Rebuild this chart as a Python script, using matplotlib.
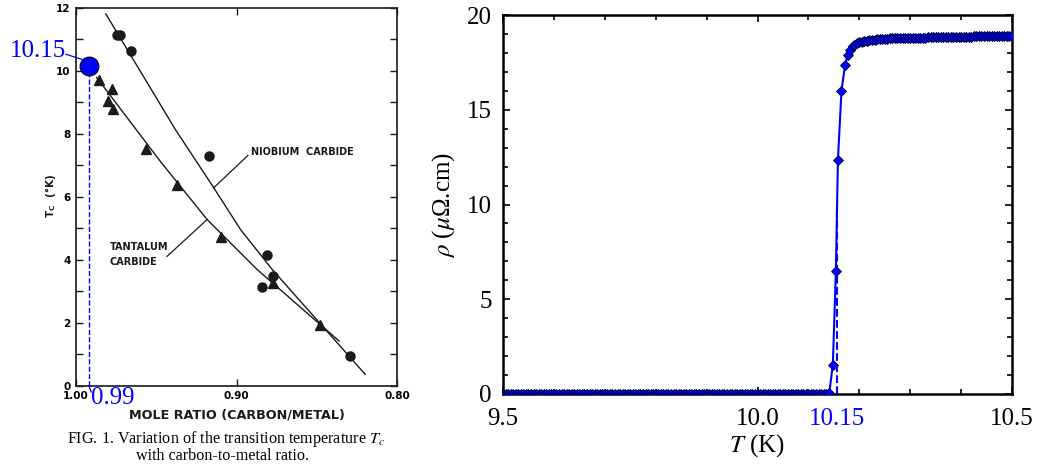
import numpy as np
import matplotlib
matplotlib.use("Agg")
import matplotlib.pyplot as plt
from matplotlib.ticker import MultipleLocator

plt.rcParams['font.family'] = ['Liberation Serif', 'DejaVu Serif']
plt.rcParams['mathtext.fontset'] = 'stix'

# left panel: Tc vs carbon/metal mole ratio (scanned figure)
nb_ratio = [0.9746, 0.9725, 0.9656, 0.9169, 0.8808, 0.8840, 0.8770, 0.8290]
nb_tc = [11.15, 11.15, 10.64, 7.29, 4.16, 3.15, 3.50, 0.95]
ta_ratio = [0.9856, 0.9773, 0.9800, 0.9767, 0.9564, 0.9370, 0.9096, 0.8770, 0.8480]
ta_tc = [9.70, 9.44, 9.04, 8.80, 7.51, 6.39, 4.73, 3.26, 1.93]
nb_curve_x = [0.9814, 0.9381, 0.9142, 0.8975, 0.8777, 0.8198]
nb_curve_y = [11.81, 8.14, 6.29, 4.96, 3.69, 0.36]
ta_curve_x = [0.9871, 0.9673, 0.9475, 0.9183, 0.8871, 0.8361]
ta_curve_y = [9.79, 8.46, 7.13, 5.28, 3.69, 1.42]
mark_ratio = 0.992
mark_tc = 10.15

# right panel: resistivity vs temperature
T_low = np.round(np.arange(9.5, 10.1375, 0.005), 3)
rho_low = np.zeros(len(T_low))
T_trans = [10.141, 10.148, 10.154, 10.158, 10.165, 10.172, 10.177, 10.182, 10.187]
rho_trans = [0.05, 1.55, 6.5, 12.35, 16.0, 17.35, 17.9, 18.15, 18.35]
T_high = np.round(np.arange(10.19, 10.5001, 0.005), 3)
rho_high = [18.42, 18.50, 18.55, 18.59, 18.62, 18.65, 18.67, 18.69, 18.70, 18.72, 18.73, 18.74,
            18.75, 18.75, 18.76, 18.76, 18.77, 18.77, 18.78, 18.78, 18.78, 18.79,
            18.79, 18.80, 18.80, 18.80, 18.81, 18.81, 18.81, 18.82, 18.82, 18.82,
            18.83, 18.83, 18.83, 18.84, 18.84, 18.84, 18.84, 18.85, 18.85, 18.85,
            18.85, 18.86, 18.86, 18.86, 18.86, 18.87, 18.87, 18.87, 18.87, 18.87,
            18.88, 18.88, 18.88, 18.88, 18.88, 18.89, 18.89, 18.89, 18.89, 18.89, 18.90]
Tc = 10.156

W, H = 1040, 467
fig = plt.figure(figsize=(W / 100, H / 100), dpi=100)

def fx(px):
    return px / W

def fy(py):
    return 1 - py / H

# ---------------- left panel ----------------
ax1 = fig.add_axes([fx(76), fy(385.7), fx(397) - fx(76), fy(8) - fy(385.7)])
ink = '#1a1a1a'
ax1.plot(nb_curve_x, nb_curve_y, color=ink, lw=1.0)
ax1.plot(ta_curve_x, ta_curve_y, color=ink, lw=1.0)
ax1.plot(nb_ratio, nb_tc, 'o', color=ink, ms=6.5, ls='none')
ax1.plot(ta_ratio, ta_tc, '^', color=ink, ms=6.5, ls='none')

ax1.set_xlim(1.00, 0.80)
ax1.set_ylim(0, 12)
ax1.set_xticks([1.00, 0.90, 0.80])
ax1.set_xticklabels(['1.00', '0.90', '0.80'])
ax1.set_yticks([0, 2, 4, 6, 8, 10, 12])
ax1.yaxis.set_minor_locator(MultipleLocator(1))
ax1.tick_params(which='both', direction='in', top=True, right=True, length=5,
                width=1.0, color=ink, labelsize=7.5, pad=4)
for lab in ax1.get_xticklabels() + ax1.get_yticklabels():
    lab.set_fontfamily('DejaVu Sans')
    lab.set_fontweight('bold')
for s in ax1.spines.values():
    s.set_linewidth(1.2)
    s.set_color(ink)

# leader lines and curve labels
ax1.plot([0.8929, 0.9142], [7.315, 6.287], color=ink, lw=0.9)
ax1.text(0.8908, 7.41, 'NIOBIUM  CARBIDE', fontsize=7, family='DejaVu Sans',
         fontweight='bold', ha='left', va='center', color=ink)
ax1.plot([0.9433, 0.9183], [4.108, 5.28], color=ink, lw=0.9)
ax1.text(0.9792, 4.42, 'TANTALUM', fontsize=7, family='DejaVu Sans',
         fontweight='bold', ha='left', va='center', color=ink)
ax1.text(0.9792, 3.94, 'CARBIDE', fontsize=7, family='DejaVu Sans',
         fontweight='bold', ha='left', va='center', color=ink)

# blue annotation
ax1.plot([mark_ratio, mark_ratio], [0, mark_tc], ls='--', color='blue', lw=1.0, zorder=3)
ax1.plot([mark_ratio], [mark_tc], 'o', ms=13.5, mfc='blue', mec='black', mew=0.8,
         zorder=5, clip_on=False)
ax1.plot([1.00625, 0.9964], [10.53, 10.37], color='blue', lw=0.9, clip_on=False)
ax1.text(1.00625, 10.63, '10.15', color='blue', fontsize=18, ha='right', va='center')
ax1.plot([mark_ratio, 0.9905], [0, -0.2], color='blue', lw=0.9, clip_on=False)
ax1.text(0.9905, -0.376, '0.99', color='blue', fontsize=18, ha='left', va='center')

fig.text(fx(237), fy(415), 'MOLE RATIO (CARBON/METAL)', family='DejaVu Sans',
         fontweight='bold', fontsize=9.2, ha='center', va='center', color=ink)
fig.text(fx(50), fy(196), r'T$_\mathregular{C}$  (°K)', family='DejaVu Sans',
         fontweight='bold', fontsize=7.5, rotation=90, ha='center', va='center', color=ink)
fig.text(fx(226), fy(439), r'FIG. 1. Variation of the transition temperature $T_c$',
         fontsize=11.6, ha='center', va='center')
fig.text(fx(223), fy(456), 'with carbon-to-metal ratio.',
         fontsize=11.6, ha='center', va='center')

# ---------------- right panel ----------------
ax2 = fig.add_axes([fx(503), fy(394), fx(1012) - fx(503), fy(15) - fy(394)])
T_all = np.concatenate([T_low, T_trans, T_high])
rho_all = np.concatenate([rho_low, rho_trans, rho_high])
ax2.plot([Tc, Tc], [0, 9.45], ls='--', color='blue', lw=1.5, zorder=2)
ax2.plot(T_all, rho_all, '-', color='blue', lw=1.5, marker='D', ms=5.3,
         mfc='blue', mec='#000030', mew=0.6, zorder=3)

ax2.set_xlim(9.5, 10.5)
ax2.set_ylim(0, 20)
ax2.set_xticks([9.5, 10.0, 10.5])
ax2.set_xticklabels(['9.5', '10.0', '10.5'])
ax2.xaxis.set_minor_locator(MultipleLocator(0.1))
ax2.set_yticks([0, 5, 10, 15, 20])
ax2.yaxis.set_minor_locator(MultipleLocator(1))
ax2.tick_params(which='both', direction='in', top=True, right=True, width=1.2,
                labelsize=18)
ax2.tick_params(which='major', length=5)
ax2.tick_params(axis='x', which='major', pad=10)
ax2.tick_params(axis='y', which='major', pad=8)
ax2.tick_params(which='minor', length=3.5)
for s in ax2.spines.values():
    s.set_linewidth(1.8)

ax2.annotate('10.15', xy=(Tc, 0), xycoords=('data', 'axes fraction'),
             xytext=(0, -10), textcoords='offset points', color='blue',
             fontsize=18, ha='center', va='top')
fig.text(fx(757), fy(446), r'$T$ (K)', fontsize=18, ha='center', va='center')
fig.text(fx(444), fy(205), r'$\rho$ ($\mu$Ω.cm)', fontsize=18, rotation=90,
         ha='center', va='center')

fig.savefig('out.png', dpi=100, facecolor='white')
